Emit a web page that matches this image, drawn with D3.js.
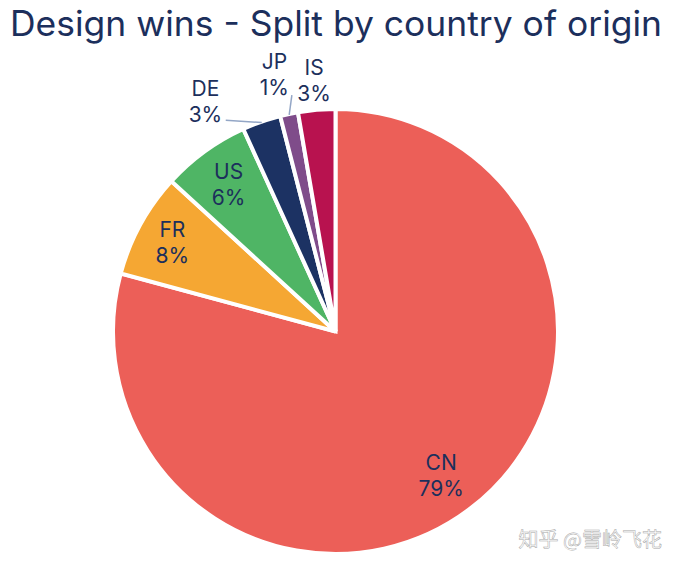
<!DOCTYPE html>
<html lang="en">
<head>
<meta charset="UTF-8">
<title>Design wins</title>
<script src="https://d3js.org/d3.v7.min.js"></script>
<style>
  html, body { margin: 0; padding: 0; background: #fff; }
  svg { display: block; }
  text { font-family: Inter, "Open Sans", sans-serif; fill: #1c2f5c; }
</style>
</head>
<body>
<script>
const countries = ["CN", "FR", "US", "DE", "JP", "IS"];
const shares = [79.2, 7.6, 6.4, 2.8, 1.3, 2.7];
const shareLabels = ["79%", "8%", "6%", "3%", "1%", "3%"];
const sliceColors = ["#ec5f58", "#f5a733", "#4fb565", "#1c3263", "#7f4c8a", "#b8124f"];
const chartTitle = "Design wins - Split by country of origin";
const watermark = "知乎 @雪岭飞花";

const width = 679, height = 567;
const cx = 335.5, cy = 331.5;
const radius = 220.5;
const strokeW = 4;

const svg = d3.select("body").append("svg")
  .attr("width", width)
  .attr("height", height);

svg.append("text")
  .attr("x", 10).attr("y", 36)
  .attr("textLength", 652)
  .attr("lengthAdjust", "spacingAndGlyphs")
  .style("font-size", "35px")
  .text(chartTitle);

const rows = countries.map((c, i) => ({ country: c, share: shares[i], label: shareLabels[i], color: sliceColors[i] }));

// clockwise from 12 o'clock, CN first
const pie = d3.pie().value(d => d.share).sort(null);
// outer edge pushed out by half the stroke, the white line would eat it otherwise
const arc = d3.arc().innerRadius(0).outerRadius(radius + strokeW / 2);
const arcs = pie(rows);

const g = svg.append("g").attr("transform", `translate(${cx},${cy})`);

g.selectAll("path").data(arcs).enter().append("path")
  .attr("d", arc)
  .attr("fill", d => d.data.color)
  .attr("stroke", "#fff")
  .attr("stroke-width", strokeW);

// polar helper, angle in radians clockwise from the top
const polar = (a, r) => [Math.sin(a) * r, -Math.cos(a) * r];
const midAngle = d => (d.startAngle + d.endAngle) / 2;
const deg = Math.PI / 180;

// label radius (fraction of pie radius) and angle nudge (degrees) per slice
const labelPos = {
  CN: { r: 0.807, nudge: 1 },
  FR: { r: 0.844, nudge: 0 },
  US: { r: 0.825, nudge: 0 },
  DE: { r: 1.2, nudge: -10 },
  JP: { r: 1.2, nudge: -1.3 },
  IS: { r: 1.145, nudge: 0 }
};

// leader lines for the two small slices
const leaders = [
  { country: "DE", r: 1.08, nudge: -8 },
  { country: "JP", r: 1.09, nudge: 1.6 }
];

leaders.forEach(l => {
  const d = arcs.find(a => a.data.country === l.country);
  const from = polar(midAngle(d) + l.nudge * deg, radius * l.r);
  const to = polar(midAngle(d), radius * 1.005);
  g.append("line")
    .attr("x1", from[0]).attr("y1", from[1])
    .attr("x2", to[0]).attr("y2", to[1])
    .attr("stroke", "#93a6c6")
    .attr("stroke-width", 1.5);
});

const labels = g.selectAll("g.lbl").data(arcs).enter().append("g")
  .attr("class", "lbl")
  .attr("transform", d => {
    const p = labelPos[d.data.country];
    const xy = polar(midAngle(d) + p.nudge * deg, radius * p.r);
    return `translate(${xy[0]},${xy[1]})`;
  });

labels.append("text").attr("text-anchor", "middle").attr("y", -5)
  .style("font-size", "21px").text(d => d.data.country);
labels.append("text").attr("text-anchor", "middle").attr("y", 21)
  .style("font-size", "21px").text(d => d.data.label);

svg.append("text")
  .attr("x", 662).attr("y", 547)
  .attr("text-anchor", "end")
  .style("font-family", '"Noto Sans CJK SC"')
  .style("font-size", "20px")
  .style("fill", "#fff")
  .style("stroke", "#a8a8a8")
  .style("stroke-width", 0.5)
  .text(watermark);
</script>
</body>
</html>
